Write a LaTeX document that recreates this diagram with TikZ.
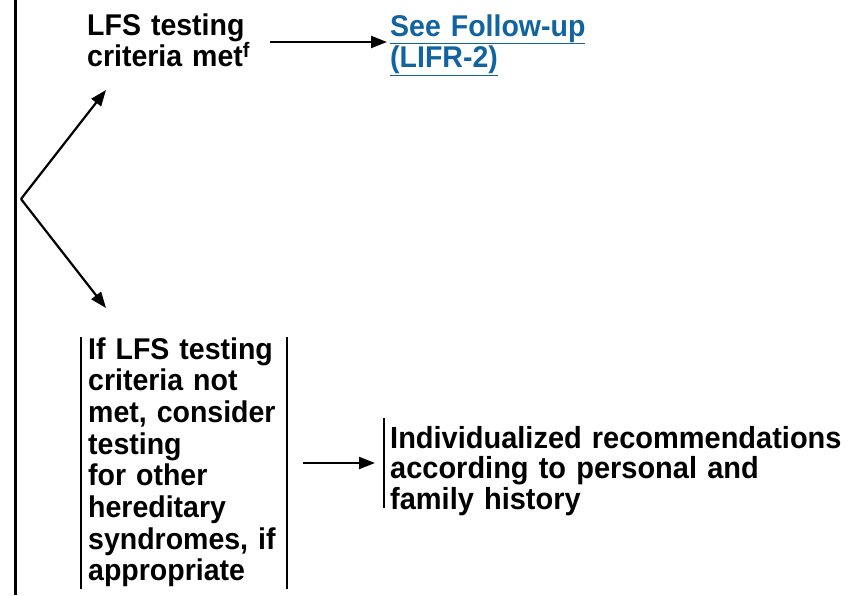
\documentclass[tikz,border=0pt]{standalone}
\usepackage{fontspec}
\setmainfont{Liberation Sans}
\newfontfamily\narrowfont[FakeStretch=0.95]{Liberation Sans}
\usetikzlibrary{arrows.meta}
\definecolor{linkblue}{RGB}{18,100,160}
\tikzset{
  txt/.style={anchor=base west, inner sep=0pt, align=left, text width=480pt,
    font=\narrowfont\fontsize{30}{31.7}\selectfont\bfseries},
  arr/.style={line width=2.2pt, -{Triangle[length=16pt,width=12pt]}},
  bar/.style={line width=2.2pt}
}
\begin{document}
\begin{tikzpicture}[x=1pt,y=-1pt]
\useasboundingbox (0,0) rectangle (865,595);
% main vertical line
\draw[bar] (15.5,0) -- (15.5,595);
% top result
\node[txt] (met) at (87,35) {LFS testing\\criteria met\textsuperscript{f}};
\node[txt, text=linkblue] (fu) at (390,36) {\underline{See Follow-up}\\\underline{(LIFR-2)}};
\coordinate (a1s) at (270,42);
\coordinate (a1e) at (387,42);
\draw[arr] (a1s) -- (a1e);
% fork
\coordinate (fork) at (21,199);
\coordinate (upTip) at (106,90);
\coordinate (dnTip) at (106,308);
\draw[arr] (fork) -- (upTip);
\draw[arr] (fork) -- (dnTip);
% lower box
\node[txt] (notmet) at (88,359) {If LFS testing\\criteria not\\met, consider\\testing\\for other\\hereditary\\syndromes, if\\appropriate};
\draw[bar] (81,337) -- (81,589);
\draw[bar] (287,337) -- (287,589);
% arrow to individualized
\coordinate (a2s) at (303,463);
\coordinate (a2e) at (375,463);
\draw[arr] (a2s) -- (a2e);
\node[txt, font=\narrowfont\fontsize{30.5}{30.5}\selectfont\bfseries] (indiv) at (390,448) {Individualized recommendations\\according to personal and\\family history};
\draw[bar] (384,418) -- (384,508);
\end{tikzpicture}
\end{document}
